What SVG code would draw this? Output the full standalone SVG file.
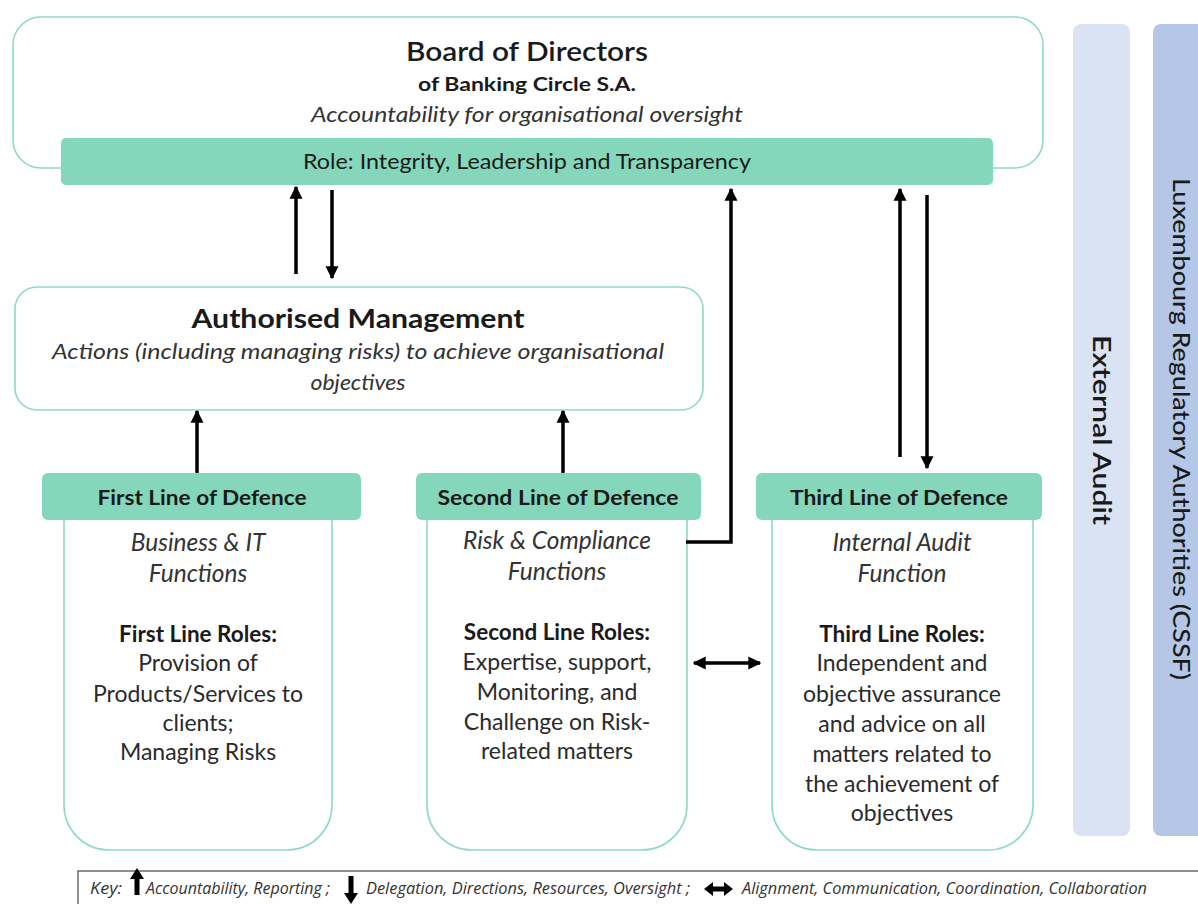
<svg xmlns="http://www.w3.org/2000/svg" width="1198" height="904" viewBox="0 0 1198 904">
<defs>
<style>
.box{fill:#fff;stroke:#8ddcc0;stroke-width:1.6}
.hdr{fill:#84d7bb}
.t{font-family:Lato,"Open Sans","Liberation Sans",sans-serif;fill:#1a1a1a;text-anchor:middle}
.b{font-weight:bold}
.i{font-style:italic;fill:#333}
.body{font-size:23px;fill:#2a2a2a}
.body .i{font-size:24.5px}
.body .b{font-size:22.5px;fill:#1a1a1a}
.hd{font-size:21px;font-weight:bold}
.ln{stroke:#000;stroke-width:3.5;fill:none}
.key{font-family:"Open Sans","DejaVu Sans",sans-serif;font-style:italic;font-size:16px;fill:#333}
</style>
<marker id="ah" viewBox="0 0 10 10" refX="9" refY="5" markerWidth="13" markerHeight="14" markerUnits="userSpaceOnUse" orient="auto-start-reverse">
<path d="M0,0 L10,5 L0,10 Z" fill="#000"/>
</marker>
</defs>
<rect width="1198" height="904" fill="#fff"/>

<g id="external-audit">
<rect x="1073" y="24" width="57" height="812" rx="8" fill="#dae3f3"/>
<text class="t" font-size="25" font-weight="600" transform="translate(1093,430) rotate(90)" textLength="190" lengthAdjust="spacingAndGlyphs">External Audit</text>
</g>
<g id="cssf">
<rect x="1153" y="24" width="60" height="812" rx="8" fill="#b4c7e7"/>
<text class="t" font-size="23" font-weight="500" transform="translate(1173,429) rotate(90)" textLength="502" lengthAdjust="spacingAndGlyphs">Luxembourg Regulatory Authorities (CSSF)</text>
</g>

<g id="board">
<rect class="box" x="13" y="17" width="1030" height="151" rx="28"/>
<rect class="hdr" x="61" y="138" width="932" height="47" rx="5"/>
<text class="t" x="527" y="61" font-size="27" font-weight="600" textLength="242" lengthAdjust="spacingAndGlyphs">Board of Directors</text>
<text class="t b" x="527" y="91" font-size="18.5" textLength="218" lengthAdjust="spacingAndGlyphs">of Banking Circle S.A.</text>
<text class="t i" x="527" y="122" font-size="21" textLength="432" lengthAdjust="spacingAndGlyphs">Accountability for organisational oversight</text>
<text class="t" x="527" y="169" font-size="21" textLength="448" lengthAdjust="spacingAndGlyphs">Role: Integrity, Leadership and Transparency</text>
</g>

<g id="authorised-management">
<rect class="box" x="15" y="287" width="688" height="123" rx="22"/>
<text class="t b" x="358" y="328" font-size="27" textLength="333" lengthAdjust="spacingAndGlyphs">Authorised Management</text>
<text class="t i" x="358" y="359" font-size="22" textLength="612" lengthAdjust="spacingAndGlyphs">Actions (including managing risks) to achieve organisational</text>
<text class="t i" x="358" y="390" font-size="22" textLength="95" lengthAdjust="spacingAndGlyphs">objectives</text>
</g>

<g id="first-line">
<path class="box" d="M64,515 V805 A45,45 0 0 0 109,850 H287 A45,45 0 0 0 332,805 V515"/>
<rect class="hdr" x="42" y="473" width="319" height="47" rx="6"/>
<text class="t hd" x="202" y="505" textLength="209" lengthAdjust="spacingAndGlyphs">First Line of Defence</text>
<g class="t body">
<text class="i" x="198" y="551">Business &amp; IT</text>
<text class="i" x="198" y="582">Functions</text>
<text class="b" x="198" y="642">First Line Roles:</text>
<text x="198" y="671">Provision of</text>
<text x="198" y="702">Products/Services to</text>
<text x="198" y="731">clients;</text>
<text x="198" y="760">Managing Risks</text>
</g>
</g>

<g id="second-line">
<path class="box" d="M427,515 V805 A45,45 0 0 0 472,850 H642 A45,45 0 0 0 687,805 V515"/>
<rect class="hdr" x="416" y="473" width="285" height="47" rx="6"/>
<text class="t hd" x="558" y="505" textLength="241" lengthAdjust="spacingAndGlyphs">Second Line of Defence</text>
<g class="t body">
<text class="i" x="557" y="549">Risk &amp; Compliance</text>
<text class="i" x="557" y="580">Functions</text>
<text class="b" x="557" y="640">Second Line Roles:</text>
<text x="557" y="670">Expertise, support,</text>
<text x="557" y="700">Monitoring, and</text>
<text x="557" y="730">Challenge on Risk-</text>
<text x="557" y="759">related matters</text>
</g>
</g>

<g id="third-line">
<path class="box" d="M772,515 V805 A45,45 0 0 0 817,850 H988 A45,45 0 0 0 1033,805 V515"/>
<rect class="hdr" x="756" y="473" width="286" height="47" rx="6"/>
<text class="t hd" x="899" y="505" textLength="218" lengthAdjust="spacingAndGlyphs">Third Line of Defence</text>
<g class="t body">
<text class="i" x="902" y="551">Internal Audit</text>
<text class="i" x="902" y="582">Function</text>
<text class="b" x="902" y="642">Third Line Roles:</text>
<text x="902" y="671">Independent and</text>
<text x="902" y="702">objective assurance</text>
<text x="902" y="732">and advice on all</text>
<text x="902" y="762">matters related to</text>
<text x="902" y="792">the achievement of</text>
<text x="902" y="821">objectives</text>
</g>
</g>

<g id="connectors">
<line class="ln" x1="296" y1="274" x2="296" y2="187" marker-end="url(#ah)"/>
<line class="ln" x1="332" y1="190" x2="332" y2="278" marker-end="url(#ah)"/>
<line class="ln" x1="197" y1="473" x2="197" y2="411" marker-end="url(#ah)"/>
<line class="ln" x1="563" y1="473" x2="563" y2="411" marker-end="url(#ah)"/>
<polyline class="ln" points="686,542 731,542 731,189" marker-end="url(#ah)"/>
<line class="ln" x1="900" y1="457" x2="900" y2="189" marker-end="url(#ah)"/>
<line class="ln" x1="927" y1="195" x2="927" y2="468" marker-end="url(#ah)"/>
<line class="ln" x1="694" y1="663" x2="760" y2="663" marker-start="url(#ah)" marker-end="url(#ah)"/>
</g>

<g id="key">
<rect x="78" y="871" width="1140" height="40" fill="#fff" stroke="#555" stroke-width="1.3"/>
<text class="key" x="90" y="894" textLength="32" lengthAdjust="spacingAndGlyphs">Key:</text>
<path d="M137,868 L144,879 L139.5,879 L139.5,895 L134.5,895 L134.5,879 L130,879 Z" fill="#000"/>
<text class="key" x="146" y="894" textLength="184" lengthAdjust="spacingAndGlyphs">Accountability, Reporting ;</text>
<path d="M351,904 L358,893 L353.5,893 L353.5,876 L348.5,876 L348.5,893 L344,893 Z" fill="#000"/>
<text class="key" x="366" y="894" textLength="324" lengthAdjust="spacingAndGlyphs">Delegation, Directions, Resources, Oversight ;</text>
<path d="M704,889 L713,882 L713,886.5 L724,886.5 L724,882 L733,889 L724,896 L724,891.5 L713,891.5 L713,896 Z" fill="#000"/>
<text class="key" x="742" y="894" textLength="405" lengthAdjust="spacingAndGlyphs">Alignment, Communication, Coordination, Collaboration</text>
</g>
</svg>
